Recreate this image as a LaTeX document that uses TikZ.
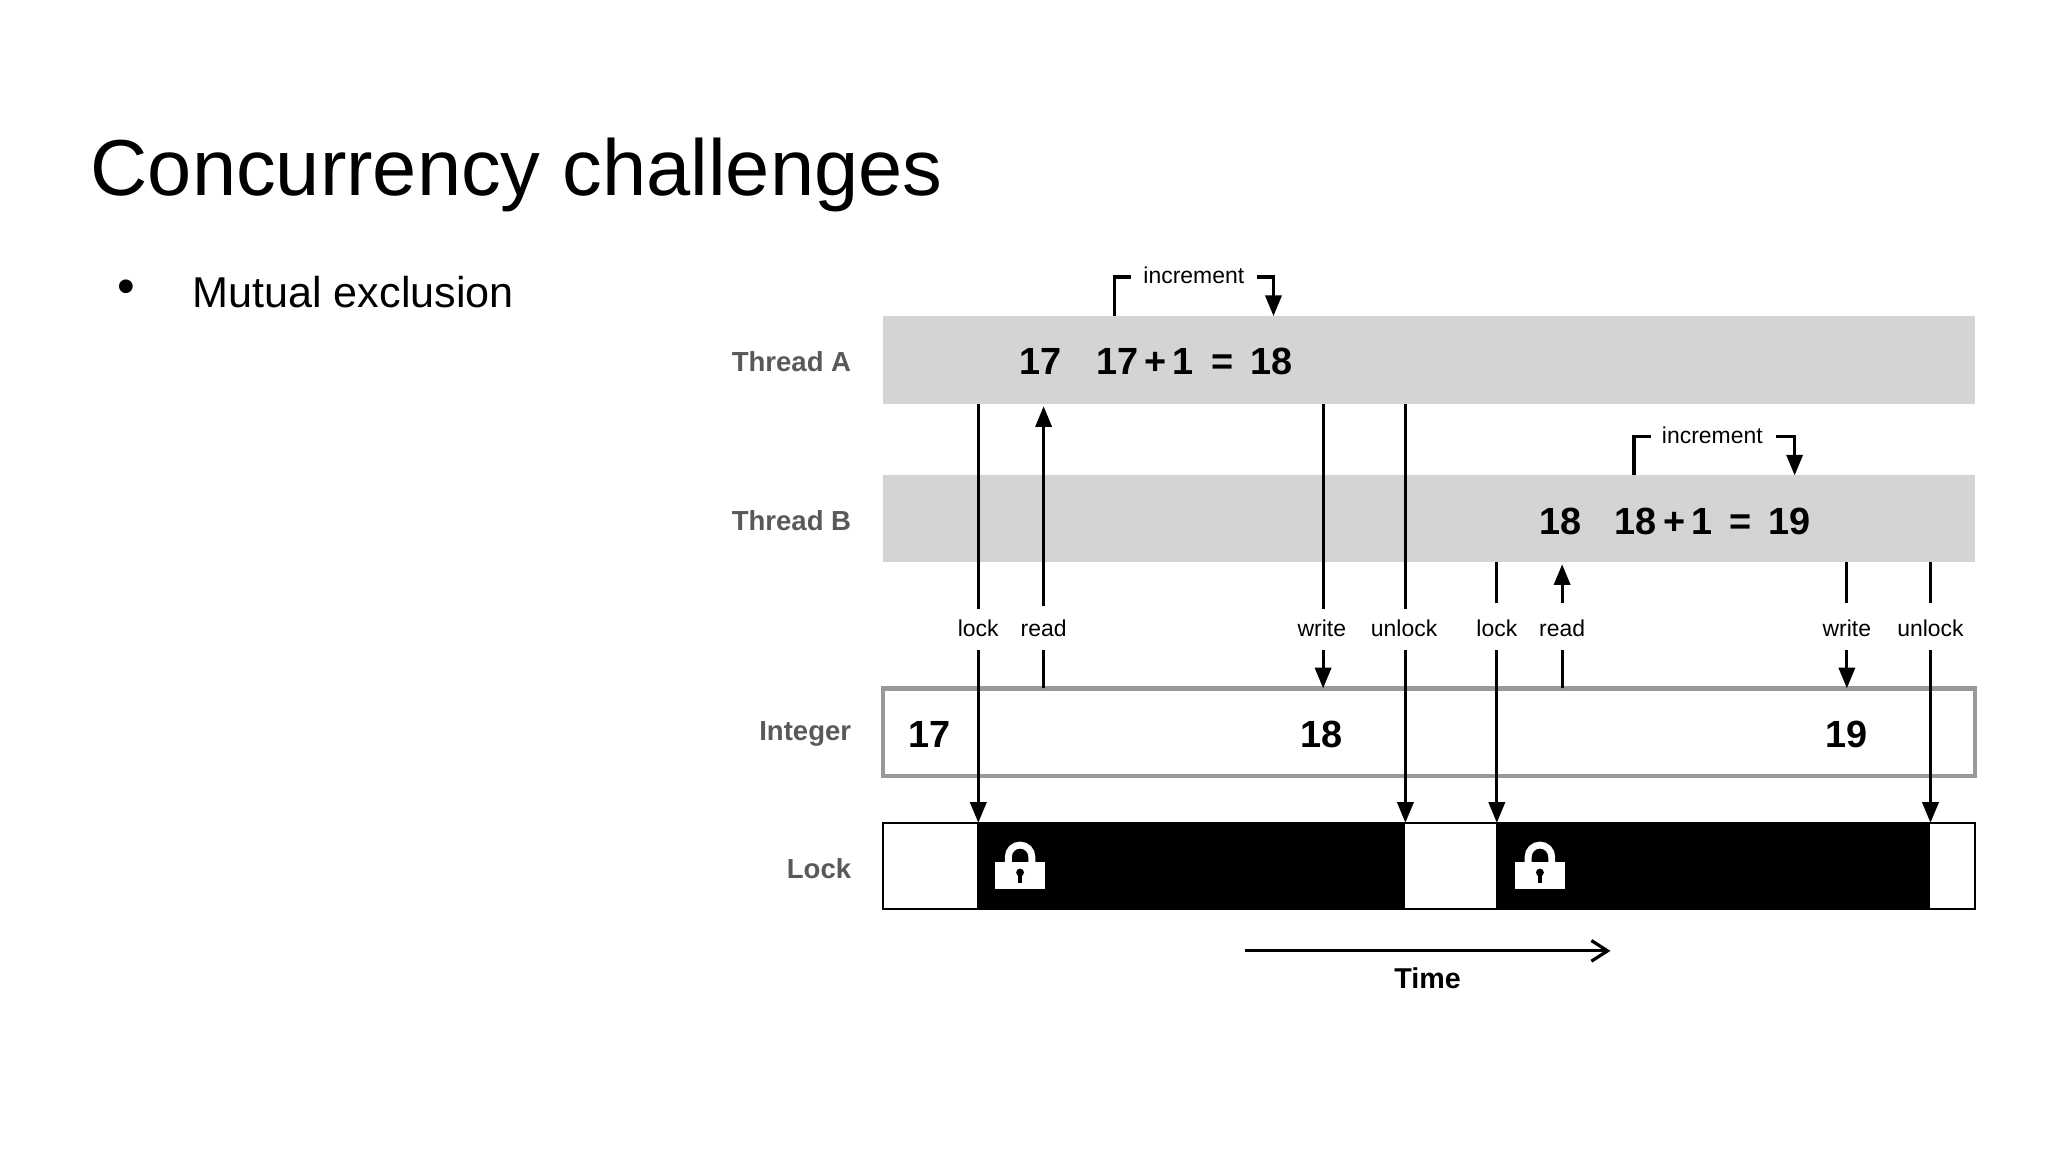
\documentclass[tikz,border=0pt]{standalone}
\usepackage{fontspec}
\setmainfont{Liberation Sans}
\usetikzlibrary{arrows.meta}
\begin{document}
\begin{tikzpicture}[x=0.02cm,y=-0.02cm,
 lab/.style={font=\fontsize{12}{14}\selectfont\bfseries,text=black!65,anchor=east,inner sep=0pt},
 num/.style={font=\fontsize{16.5}{20}\selectfont\bfseries},
 sm/.style={font=\fontsize{10}{12}\selectfont},
 ln/.style={line width=1.4pt},
 ar/.style={ln,-{Triangle[length=9pt,width=7pt]}}]
\useasboundingbox (0,0) rectangle (1568,882);
\node[anchor=base west,font=\fontsize{34.6}{40}\selectfont,inner sep=0pt] (title) at (69,150) {Concurrency challenges};
\node[font=\fontsize{22}{22}\selectfont] (bul) at (97,223) {\textbullet};
\node[anchor=west,font=\fontsize{18.8}{22}\selectfont,inner sep=0pt] (mx) at (147,224) {Mutual exclusion};
% bars
\fill[black!17] (676,242) rectangle (1512,309);
\fill[black!17] (676,364) rectangle (1512,430);
\draw[black!40,line width=2pt] (676,527) rectangle (1512,594);
\draw[line width=1pt] (676,630) rectangle (1512,696);
\fill (748,630) rectangle (1076,696);
\fill (1145,630) rectangle (1478,696);
\node[lab] (la) at (652,277) {Thread A};
\node[lab] (lb) at (652,399) {Thread B};
\node[lab] (li) at (652,562) {Integer};
\node[lab] (ll) at (652,665) {Lock};
% numbers
\node[num] (a17) at (797,277) {17};
\node[num,anchor=west] (aeq) at (833,277) {17\,+\,1\hspace{0.45em}=\hspace{0.45em}18};
\node[num] (b18) at (1195,399) {18};
\node[num,anchor=west] (beq) at (1230,399) {18\,+\,1\hspace{0.45em}=\hspace{0.45em}19};
\node[num] (i17) at (712,562) {17};
\node[num] (i18) at (1012,562) {18};
\node[num] (i19) at (1414,562) {19};
% increments
\node[sm] (inca) at (914,211) {increment};
\draw[ln] (853,242) -- (853,212) -- (866,212);
\draw[ar] (962,212) -- (975,212) -- (975,242);
\node[sm] (incb) at (1311,333) {increment};
\draw[ln] (1251,364) -- (1251,334) -- (1264,334);
\draw[ar] (1360,334) -- (1374,334) -- (1374,364);
% labels
\foreach \x/\t/\n in {749/lock/l1,799/read/r1,1012/write/w1,1075/unlock/u1,1146/lock/l2,1196/read/r2,1414/write/w2,1478/unlock/u2}
  \node[sm] (\n) at (\x,481) {\t};
% connectors
\draw[ln] (749,309) -- (749,466); \draw[ar] (749,498) -- (749,630);
\draw[ln] (799,527) -- (799,498); \draw[ar] (799,464) -- (799,311);
\draw[ln] (1013,309) -- (1013,466); \draw[ar] (1013,498) -- (1013,527);
\draw[ln] (1076,309) -- (1076,466); \draw[ar] (1076,498) -- (1076,630);
\draw[ln] (1146,430) -- (1146,462); \draw[ar] (1146,498) -- (1146,630);
\draw[ln] (1196,527) -- (1196,498); \draw[ar] (1196,462) -- (1196,432);
\draw[ln] (1414,430) -- (1414,462); \draw[ar] (1414,498) -- (1414,527);
\draw[ln] (1478,430) -- (1478,462); \draw[ar] (1478,498) -- (1478,630);
% lock icons
\foreach \cx in {781,1179}{
  \draw[white,line width=3pt] (\cx-9,662) -- (\cx-9,656) arc(180:360:9) -- (\cx+9,662);
  \fill[white] (\cx-19,660) rectangle (\cx+19,681);
  \fill[black] (\cx,668) circle (3);
  \fill[black] (\cx-1.5,668) rectangle (\cx+1.5,676);
}
% time
\draw[line width=1.4pt,-{Straight Barb[length=7pt,width=9pt]}] (953,728) -- (1233,728);
\node[font=\fontsize{12.5}{14}\selectfont\bfseries] (time) at (1093,749) {Time};
\end{tikzpicture}
\end{document}
